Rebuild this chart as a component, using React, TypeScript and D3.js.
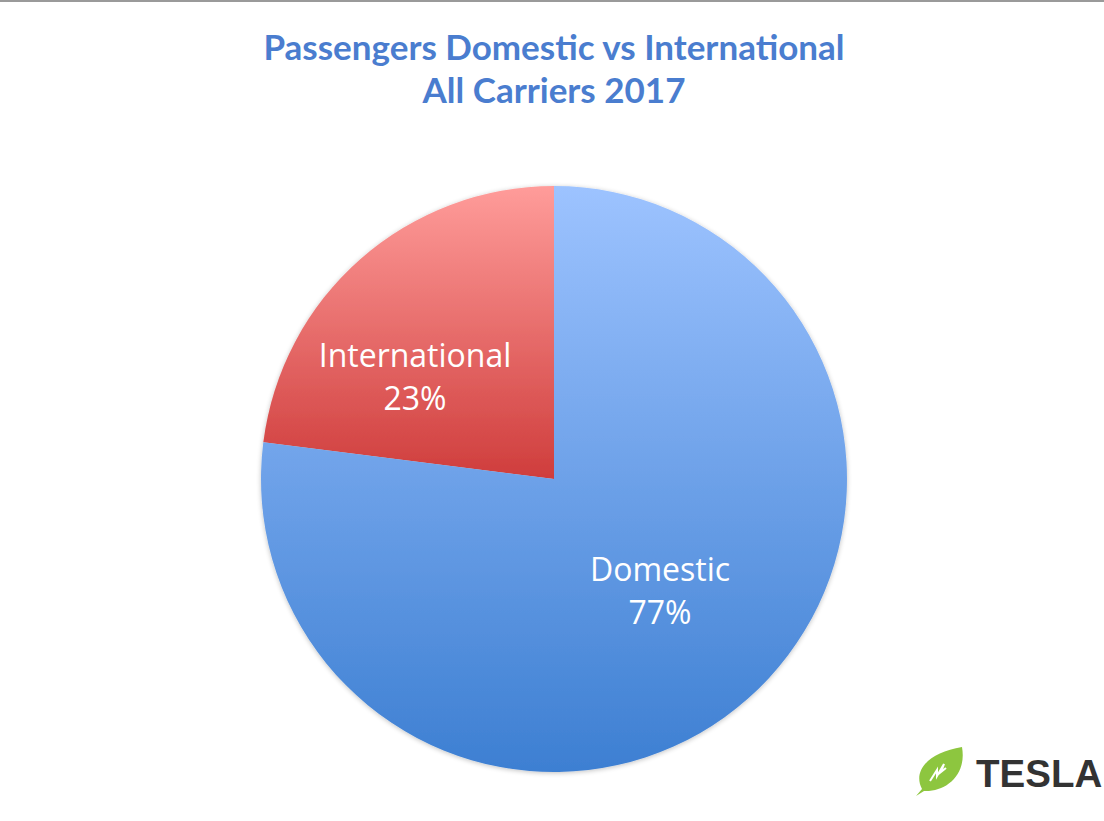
import React from "react";
import * as d3 from "d3";

const categories = ["International", "Domestic"];
const shares = [23, 77];
const percentLabels = ["23%", "77%"];
const titleLines = ["Passengers Domestic vs International", "All Carriers 2017"];
const gradTop = ["#FF9C9A", "#9DC3FF"];
const gradBottom = ["#CF3D3C", "#3D7FD2"];

export default function App() {
  const W = 1104, H = 821;
  const cx = 554, cy = 479, r = 293;
  const pie = d3.pie<number>().sort(null).startAngle(-(shares[0] / 100) * 2 * Math.PI).endAngle(2 * Math.PI - (shares[0] / 100) * 2 * Math.PI);
  const arcs = pie(shares);
  const arc = d3.arc<d3.PieArcDatum<number>>().innerRadius(0).outerRadius(r);
  const labelPos = [
    [415 - cx, 367 - cy],
    [660 - cx, 581 - cy],
  ];
  return (
    <svg width={W} height={H} style={{ position: "absolute", left: 0, top: 0, background: "#fff" }}>
      <defs>
        {categories.map((c, i) => (
          <linearGradient key={c} id={`g${i}`} x1="0" y1="0" x2="0" y2="1">
            <stop offset="0" stopColor={gradTop[i]} />
            <stop offset="1" stopColor={gradBottom[i]} />
          </linearGradient>
        ))}
        <filter id="sh" x="-10%" y="-10%" width="120%" height="120%">
          <feGaussianBlur in="SourceAlpha" stdDeviation="2.5" />
          <feOffset dx="0" dy="1" />
          <feComponentTransfer><feFuncA type="linear" slope="0.25" /></feComponentTransfer>
          <feMerge><feMergeNode /><feMergeNode in="SourceGraphic" /></feMerge>
        </filter>
      </defs>
      <rect x={0} y={0} width={W} height={2} fill="#9a9a9a" />
      <g fontFamily="Lato, 'Open Sans', sans-serif" fontWeight="bold" fill="#4A7DCF" fontSize={35} textAnchor="middle">
        {titleLines.map((t, i) => (
          <text key={t} x={554} y={60 + i * 43}>{t}</text>
        ))}
      </g>
      <g transform={`translate(${cx},${cy})`} filter="url(#sh)">
        {arcs.map((a, i) => (
          <path key={categories[i]} d={arc(a) || ""} fill={`url(#g${i})`} />
        ))}
      </g>
      <g transform={`translate(${cx},${cy})`} fill="#fff" fontFamily="'Open Sans', Lato, sans-serif" fontSize={32} textAnchor="middle">
        {arcs.map((a, i) => (
          <text key={categories[i]} x={labelPos[i][0]} y={labelPos[i][1]}>
            <tspan x={labelPos[i][0]} dy={0}>{categories[i]}</tspan>
            <tspan x={labelPos[i][0]} dy={43}>{percentLabels[i]}</tspan>
          </text>
        ))}
      </g>
      <g>
        <path d="M962,747 C930,752 912,770 922,789 L916,796 L924,791 C946,792 967,775 962,747 Z" fill="#8DC63F" />
        <path d="M930,781 L937,770 L937,776 L944,764 L941,772 L946,768" fill="none" stroke="#fff" strokeWidth={2} />
        <text x={976} y={787} fontFamily="'Liberation Sans', Arial, sans-serif" fontWeight="bold" fontSize={38.5} fill="#333">TESLA</text>
      </g>
    </svg>
  );
}
